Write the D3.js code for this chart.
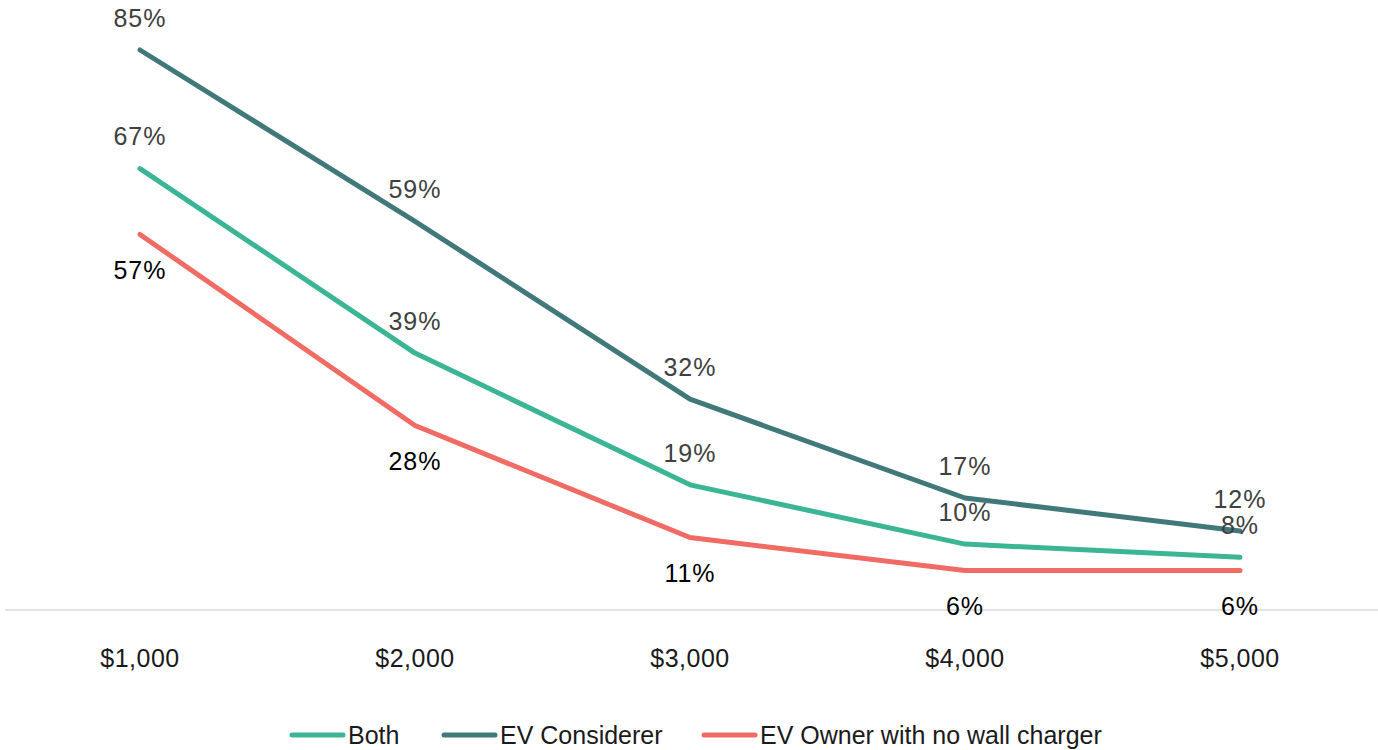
<!DOCTYPE html>
<meta charset="utf-8">
<style>
  body { margin: 0; background: #fff; }
  svg text { font-family: "Liberation Sans", Arial, sans-serif; }
</style>
<svg id="chart" width="1378" height="750"></svg>
<script src="https://d3js.org/d3.v7.min.js"></script>
<script>

// categories and series
var prices = ["$1,000", "$2,000", "$3,000", "$4,000", "$5,000"];
var both = [67, 39, 19, 10, 8];
var considerer = [85, 59, 32, 17, 12];
var owner = [57, 28, 11, 6, 6];
var seriesNames = ["Both", "EV Considerer", "EV Owner with no wall charger"];

var svg = d3.select("#chart");

var x = d3.scaleBand()
  .domain(prices)
  .range([2.5, 1377.5]);

var y = d3.scaleLinear()
  .domain([0, 85])
  .range([610, 50]);

var series = [
  { name: seriesNames[0], values: both, color: "#3bb594", labelColor: "#404040", dy: -32 },
  { name: seriesNames[1], values: considerer, color: "#41787a", labelColor: "#404040", dy: -32 },
  { name: seriesNames[2], values: owner, color: "#ef6b63", labelColor: "#000", dy: 36 }
];

function cx(d, i) { return x(prices[i]) + x.bandwidth() / 2; }

// baseline
svg.append("line")
  .attr("x1", 5).attr("x2", 1378)
  .attr("y1", y(0)).attr("y2", y(0))
  .attr("stroke", "#d9d9d9")
  .attr("stroke-width", 1.5);

// x axis labels
var xAxis = d3.axisBottom(x).tickSize(0).tickPadding(0);
var gx = svg.append("g")
  .attr("transform", "translate(0,658)")
  .call(xAxis);
gx.select(".domain").remove();
gx.selectAll("text")
  .attr("dy", "0.35em")
  .attr("y", 0)
  .style("font-size", "25px")
  .style("font-family", "Liberation Sans, Arial, sans-serif")
  .style("letter-spacing", "0.5px")
  .attr("fill", "#1a1a1a");

var line = d3.line()
  .x(cx)
  .y(function(d) { return y(d); });

// draw order: owner, both, considerer
[series[2], series[0], series[1]].forEach(function(s) {
  svg.append("path")
    .datum(s.values)
    .attr("d", line)
    .attr("fill", "none")
    .attr("stroke", s.color)
    .attr("stroke-width", 5)
    .attr("stroke-linecap", "round")
    .attr("stroke-linejoin", "round");
});

series.forEach(function(s) {
  svg.append("g")
    .selectAll("text")
    .data(s.values)
    .enter()
    .append("text")
      .attr("x", cx)
      .attr("y", function(d) { return y(d) + s.dy; })
      .attr("dy", "0.35em")
      .attr("text-anchor", "middle")
      .style("font-size", "25px")
      .style("letter-spacing", "1px")
      .attr("fill", s.labelColor)
      .text(function(d) { return d + "%"; });
});

// legend
var legendX = [290, 442, 702];
var legend = svg.append("g");
series.forEach(function(s, i) {
  var g = legend.append("g").attr("transform", "translate(" + legendX[i] + ",735)");
  g.append("line")
    .attr("x1", 2).attr("x2", 53)
    .attr("y1", 0).attr("y2", 0)
    .attr("stroke", s.color)
    .attr("stroke-width", 5)
    .attr("stroke-linecap", "round");
  g.append("text")
    .attr("x", 58)
    .attr("y", 0)
    .attr("dy", "0.35em")
    .style("font-size", "25px")
    .attr("fill", "#1a1a1a")
    .text(s.name);
});

</script>
